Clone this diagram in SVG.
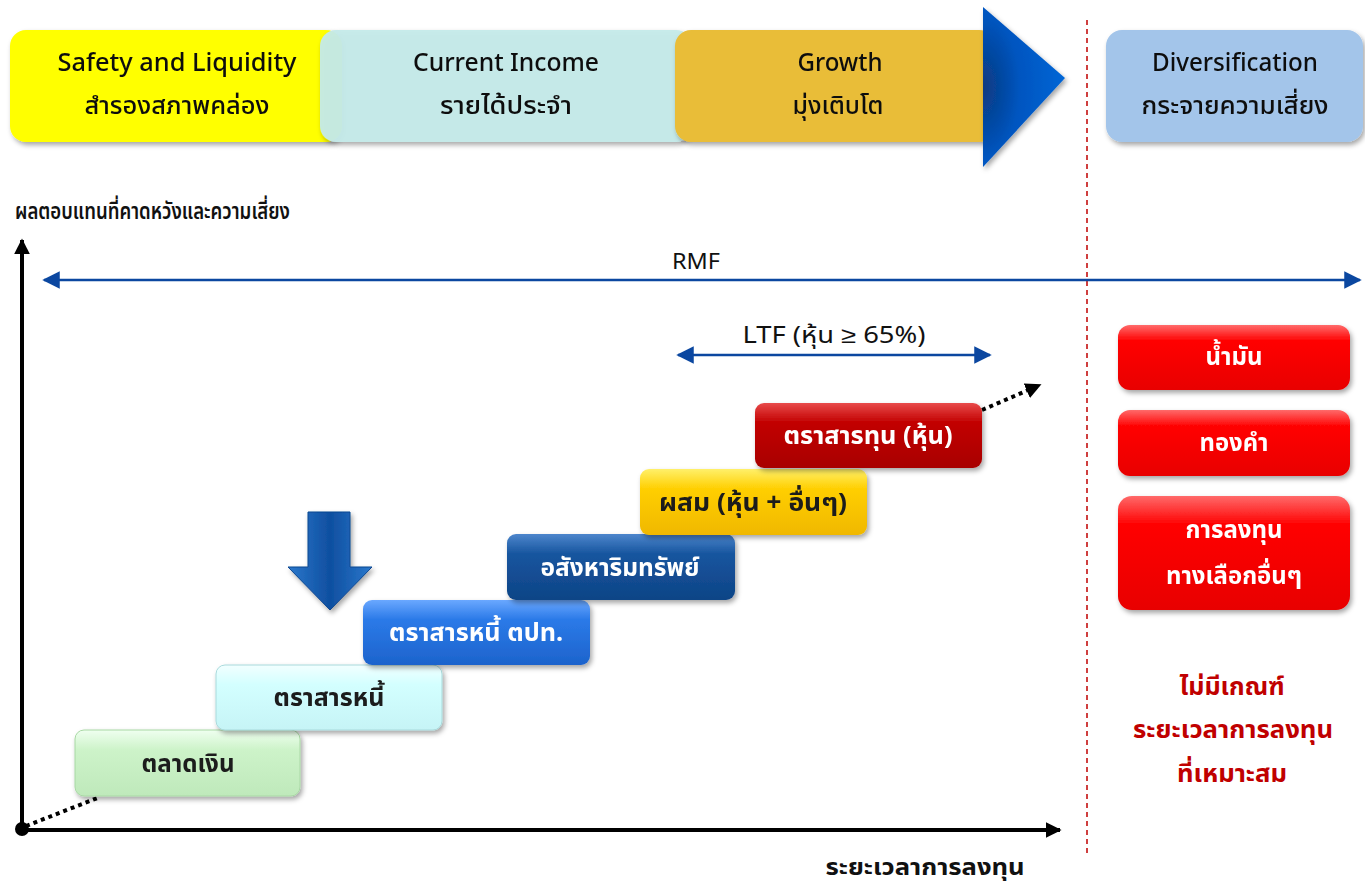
<svg xmlns="http://www.w3.org/2000/svg" width="1365" height="892" viewBox="0 0 1365 892">
<defs>
  <style>
    text { font-family: "Noto Sans", "Noto Sans Thai", "Leelawadee UI", "Liberation Sans", sans-serif; }
    .hd { font-size: 25px; fill: #111; text-anchor: middle; font-weight: 500; }
    .lbl { font-size: 23px; font-weight: bold; fill: #111; }
    .step { font-size: 25px; font-weight: bold; text-anchor: middle; }
    .wt { fill: #fff; }
    .dk { fill: #1a1a1a; }
    .red { font-size: 25px; font-weight: bold; fill: #c00000; text-anchor: middle; }
    .ax { stroke: #000; stroke-width: 4; fill: none; }
    .bl { stroke: #0b47a0; stroke-width: 2.5; fill: none; }
    .dot { stroke: #000; stroke-width: 4; stroke-dasharray: 4 4; fill: none; }
  </style>
  <filter id="sh" x="-10%" y="-20%" width="125%" height="150%">
    <feDropShadow dx="2" dy="3" stdDeviation="2.5" flood-color="#000" flood-opacity="0.35"/>
  </filter>
  <linearGradient id="gGreen" x1="0" y1="0" x2="0" y2="1"><stop offset="0" stop-color="#effff0"/><stop offset="0.3" stop-color="#cdf3c9"/><stop offset="1" stop-color="#bfe9bb"/></linearGradient>
  <linearGradient id="gCyan" x1="0" y1="0" x2="0" y2="1"><stop offset="0" stop-color="#f2ffff"/><stop offset="0.3" stop-color="#d3ffff"/><stop offset="1" stop-color="#c6f4f6"/></linearGradient>
  <linearGradient id="gBlue" x1="0" y1="0" x2="0" y2="1"><stop offset="0" stop-color="#6aa8ff"/><stop offset="0.3" stop-color="#2b7ae8"/><stop offset="1" stop-color="#1d63cc"/></linearGradient>
  <linearGradient id="gDBlue" x1="0" y1="0" x2="0" y2="1"><stop offset="0" stop-color="#4d86cc"/><stop offset="0.3" stop-color="#17559f"/><stop offset="1" stop-color="#0e4486"/></linearGradient>
  <linearGradient id="gYel" x1="0" y1="0" x2="0" y2="1"><stop offset="0" stop-color="#fff06a"/><stop offset="0.3" stop-color="#ffcf00"/><stop offset="1" stop-color="#f0b800"/></linearGradient>
  <linearGradient id="gDRed" x1="0" y1="0" x2="0" y2="1"><stop offset="0" stop-color="#e84a4a"/><stop offset="0.3" stop-color="#c20000"/><stop offset="1" stop-color="#a80000"/></linearGradient>
  <linearGradient id="gRed" x1="0" y1="0" x2="0" y2="1"><stop offset="0" stop-color="#ff6a6a"/><stop offset="0.25" stop-color="#ff0000"/><stop offset="1" stop-color="#e80000"/></linearGradient>
  <radialGradient id="gTri" cx="0" cy="0.5" r="1"><stop offset="0" stop-color="#0a3a80"/><stop offset="0.45" stop-color="#0055c0"/><stop offset="1" stop-color="#0066d6"/></radialGradient>
  <linearGradient id="gDown" x1="0" y1="0" x2="1" y2="0"><stop offset="0" stop-color="#2a78cc"/><stop offset="0.5" stop-color="#0f4fa0"/><stop offset="1" stop-color="#2a78cc"/></linearGradient>
  <marker id="aBlk" viewBox="0 0 10 10" refX="9" refY="5" markerWidth="4" markerHeight="4" orient="auto-start-reverse"><path d="M0,0 L10,5 L0,10 z" fill="#000"/></marker>
  <marker id="aBlu" viewBox="0 0 10 10" refX="9" refY="5" markerWidth="7" markerHeight="7" orient="auto-start-reverse"><path d="M0,0 L10,5 L0,10 z" fill="#0b47a0"/></marker>
</defs>
<rect width="1365" height="892" fill="#fff"/>

<!-- top banner -->
<g id="n-safety" filter="url(#sh)">
  <rect x="10" y="30" width="332" height="112" rx="16" fill="#ffff00"/>
  <text class="hd" x="177" y="71" textLength="239" lengthAdjust="spacingAndGlyphs">Safety and Liquidity</text>
  <text class="hd" x="177" y="114" textLength="185" lengthAdjust="spacingAndGlyphs">สำรองสภาพคล่อง</text>
</g>
<g id="n-income" filter="url(#sh)">
  <rect x="320" y="30" width="372" height="112" rx="16" fill="#c4eae9" fill-opacity="0.95"/>
  <text class="hd" x="506" y="71" textLength="186" lengthAdjust="spacingAndGlyphs">Current Income</text>
  <text class="hd" x="506" y="114" textLength="132" lengthAdjust="spacingAndGlyphs">รายได้ประจำ</text>
</g>
<g id="n-growth" filter="url(#sh)">
  <rect x="675" y="30" width="320" height="112" rx="16" fill="#e9bd38"/>
  <text class="hd" x="840" y="71" textLength="85" lengthAdjust="spacingAndGlyphs">Growth</text>
  <text class="hd" x="838" y="114" textLength="91" lengthAdjust="spacingAndGlyphs">มุ่งเติบโต</text>
</g>
<g id="n-arrowhead" filter="url(#sh)">
  <polygon points="983,7 1065,78 983,167" fill="url(#gTri)"/>
</g>
<g id="n-divers" filter="url(#sh)">
  <rect x="1106" y="30" width="257" height="112" rx="16" fill="#a3c5ea"/>
  <text class="hd" x="1235" y="71" textLength="166" lengthAdjust="spacingAndGlyphs">Diversification</text>
  <text class="hd" x="1235" y="114" textLength="187" lengthAdjust="spacingAndGlyphs">กระจายความเสี่ยง</text>
</g>

<!-- divider -->
<line x1="1087" y1="20" x2="1087" y2="855" stroke="#c00000" stroke-width="1.5" stroke-dasharray="5 4"/>

<!-- axes and connectors -->
<g id="connectors">
  <line class="ax" x1="22" y1="830" x2="22" y2="240" marker-end="url(#aBlk)"/>
  <line class="ax" x1="22" y1="830" x2="1060" y2="830" marker-end="url(#aBlk)"/>
  <circle cx="22" cy="829" r="7" fill="#000"/>
  <line class="dot" x1="26" y1="826" x2="100" y2="797"/>
  <line class="dot" x1="982" y1="410" x2="1040" y2="385" marker-end="url(#aBlk)"/>
  <line class="bl" x1="44" y1="280" x2="1360" y2="280" marker-start="url(#aBlu)" marker-end="url(#aBlu)"/>
  <line class="bl" x1="678" y1="355" x2="990" y2="355" marker-start="url(#aBlu)" marker-end="url(#aBlu)"/>
</g>

<text x="15" y="219" font-size="23" font-weight="600" fill="#111" textLength="275" lengthAdjust="spacingAndGlyphs">ผลตอบแทนที่คาดหวังและความเสี่ยง</text>
<text class="lbl" x="925" y="875" text-anchor="middle" font-size="25" textLength="199" lengthAdjust="spacingAndGlyphs">ระยะเวลาการลงทุน</text>
<text x="696" y="269" font-size="22" fill="#111" text-anchor="middle" textLength="48" lengthAdjust="spacingAndGlyphs">RMF</text>
<text x="834" y="343" font-size="23" fill="#111" text-anchor="middle" textLength="183" lengthAdjust="spacingAndGlyphs">LTF (หุ้น ≥ 65%)</text>

<!-- steps -->
<g id="n-money" filter="url(#sh)">
  <rect x="75" y="730" width="225" height="66" rx="9" fill="url(#gGreen)" stroke="#a8d8a4" stroke-width="1"/>
  <text class="step dk" x="188" y="772" textLength="93" lengthAdjust="spacingAndGlyphs">ตลาดเงิน</text>
</g>
<g id="n-bond" filter="url(#sh)">
  <rect x="216" y="665" width="226" height="65" rx="9" fill="url(#gCyan)" stroke="#a9dadc" stroke-width="1"/>
  <text class="step dk" x="329" y="706" textLength="111" lengthAdjust="spacingAndGlyphs">ตราสารหนี้</text>
</g>
<g id="n-fbond" filter="url(#sh)">
  <rect x="363" y="600" width="227" height="65" rx="9" fill="url(#gBlue)"/>
  <text class="step wt" x="476" y="641" textLength="174" lengthAdjust="spacingAndGlyphs">ตราสารหนี้ ตปท.</text>
</g>
<g id="n-realestate" filter="url(#sh)">
  <rect x="507" y="534" width="228" height="66" rx="9" fill="url(#gDBlue)"/>
  <text class="step wt" x="620" y="576" textLength="159" lengthAdjust="spacingAndGlyphs">อสังหาริมทรัพย์</text>
</g>
<g id="n-mixed" filter="url(#sh)">
  <rect x="640" y="469" width="227" height="66" rx="9" fill="url(#gYel)"/>
  <text class="step dk" x="753" y="511" textLength="188" lengthAdjust="spacingAndGlyphs">ผสม (หุ้น + อื่นๆ)</text>
</g>
<g id="n-equity" filter="url(#sh)">
  <rect x="755" y="403" width="227" height="65" rx="9" fill="url(#gDRed)"/>
  <text class="step wt" x="868" y="444" textLength="169" lengthAdjust="spacingAndGlyphs">ตราสารทุน (หุ้น)</text>
</g>

<!-- down arrow -->
<g id="n-downarrow" filter="url(#sh)">
  <polygon points="308,512 350,512 350,567 372,567 330,610 288,567 308,567" fill="url(#gDown)" stroke="#0d4690" stroke-width="1"/>
</g>

<!-- alternatives -->
<g id="n-oil" filter="url(#sh)">
  <rect x="1118" y="325" width="232" height="65" rx="12" fill="url(#gRed)"/>
  <text class="step wt" x="1234" y="365" textLength="57" lengthAdjust="spacingAndGlyphs">น้ำมัน</text>
</g>
<g id="n-gold" filter="url(#sh)">
  <rect x="1118" y="410" width="232" height="66" rx="12" fill="url(#gRed)"/>
  <text class="step wt" x="1234" y="451" textLength="69" lengthAdjust="spacingAndGlyphs">ทองคำ</text>
</g>
<g id="n-alt" filter="url(#sh)">
  <rect x="1118" y="496" width="232" height="114" rx="14" fill="url(#gRed)"/>
  <text class="step wt" x="1234" y="538" textLength="97" lengthAdjust="spacingAndGlyphs">การลงทุน</text>
  <text class="step wt" x="1234" y="584" textLength="136" lengthAdjust="spacingAndGlyphs">ทางเลือกอื่นๆ</text>
</g>

<g id="n-note">
  <text class="red" x="1232" y="695" textLength="105" lengthAdjust="spacingAndGlyphs">ไม่มีเกณฑ์</text>
  <text class="red" x="1233" y="738" textLength="200" lengthAdjust="spacingAndGlyphs">ระยะเวลาการลงทุน</text>
  <text class="red" x="1232" y="782" textLength="110" lengthAdjust="spacingAndGlyphs">ที่เหมาะสม</text>
</g>
</svg>
